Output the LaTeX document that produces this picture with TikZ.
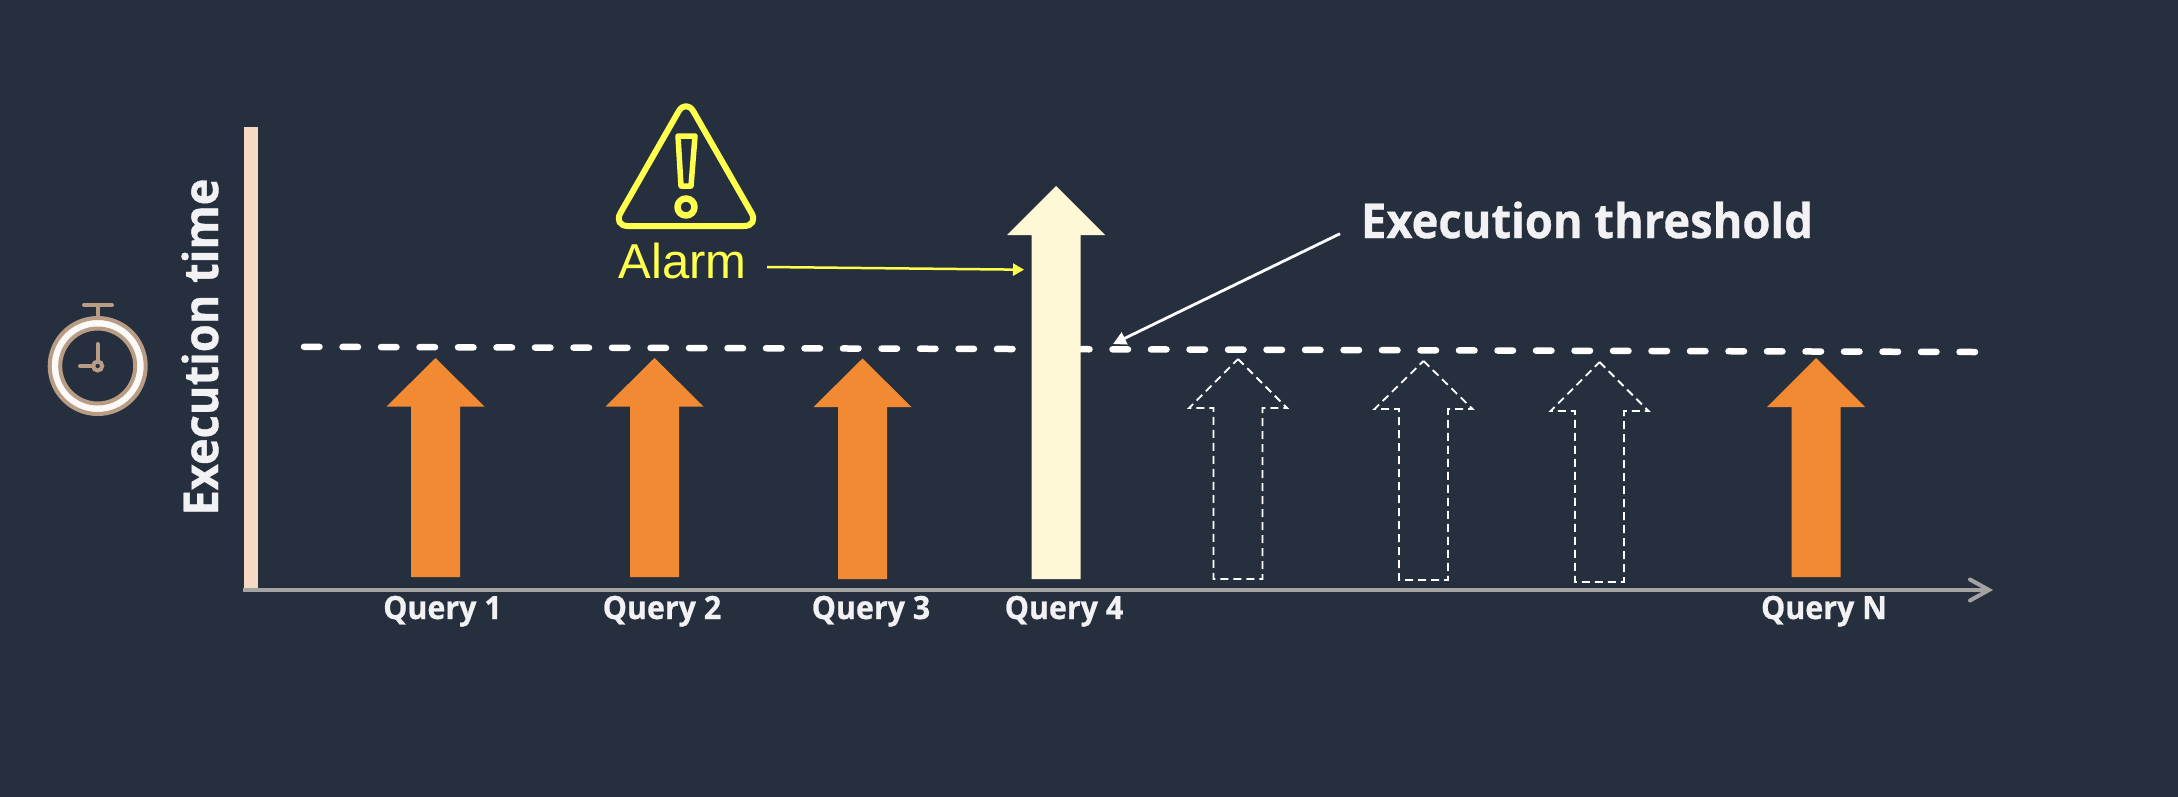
\documentclass[tikz,border=0pt]{standalone}
\usepackage{graphicx}
\usepackage{fontspec}
\setmainfont{Open Sans}
\newfontfamily\alarmfont{Liberation Sans}
\newfontfamily\heavyfont{Open Sans}[BoldFeatures={FakeBold=0.8}]
\usetikzlibrary{arrows.meta}
\definecolor{bgc}{HTML}{262F3E}
\definecolor{orangec}{HTML}{F28A33}
\definecolor{creamc}{HTML}{FFF8D6}
\definecolor{yellowc}{HTML}{FFFF4D}
\definecolor{brownc}{HTML}{B89D84}
\definecolor{peachc}{HTML}{F5D9C3}
\definecolor{greyc}{HTML}{A3A3A3}
\definecolor{labelc}{HTML}{F2F2F4}
\newcommand{\qarrow}[6]{% style, name, cx, tip, base, bottom
  \path[#1] (#3,#4) -- (#3+49,#5) -- (#3+24.5,#5) -- (#3+24.5,#6) -- (#3-24.5,#6) -- (#3-24.5,#5) -- (#3-49,#5) -- cycle;
  \coordinate (#2) at (#3,#4);
}
\newcommand{\qtext}[1]{\scalebox{.95}[1]{#1}}
\tikzset{
  x=1pt,y=-1pt,
  solidarrow/.style={fill=orangec},
  tallarrow/.style={fill=creamc},
  ghostarrow/.style={draw=white,line width=1.8pt,dash pattern=on 8pt off 5pt},
  querylabel/.style={anchor=base,inner sep=0pt,text=labelc,font=\fontsize{32}{32}\selectfont\heavyfont\bfseries},
  biglabel/.style={anchor=base,inner sep=0pt,text=labelc,font=\fontsize{48}{48}\selectfont\heavyfont\bfseries},
  watch/.style={draw=brownc,line width=4pt,line cap=round},
  alarmline/.style={draw=yellowc,line width=6pt,line join=round},
}
\begin{document}
\begin{tikzpicture}
\useasboundingbox (0,0) rectangle (2178,796);
\fill[bgc] (-5,-5) rectangle (2183,801);
% threshold
\coordinate (thA) at (304,346.8);
\coordinate (thB) at (1975,352);
\draw[white,line width=6.5pt,line cap=round,dash pattern=on 15.5pt off 23pt] (thA) -- (thB);
% axes
\fill[peachc] (244,127) rectangle (258,588);
\coordinate (xA) at (243,590);
\coordinate (xB) at (1989,590);
\draw[greyc,line width=4pt] (xA) -- (xB);
\draw[greyc,line width=4pt,line cap=round,line join=miter] (1970,579.5) -- (1989,590) -- (1970,600.5);
% arrows
\qarrow{solidarrow}{q1}{435.5}{358}{406.5}{577}
\qarrow{solidarrow}{q2}{654.5}{358}{406.5}{577}
\qarrow{solidarrow}{q3}{862.5}{358.5}{407}{579}
\qarrow{tallarrow}{q4}{1056}{186}{235}{579}
\qarrow{ghostarrow}{g1}{1238}{359}{408}{579}
\qarrow{ghostarrow}{g2}{1423.5}{361}{409}{580}
\qarrow{ghostarrow}{g3}{1599.5}{362}{411}{582}
\qarrow{solidarrow}{qn}{1816}{358}{407}{577}
% labels
\node[querylabel] (l1) at (442.5,619) {\qtext{Query 1}};
\node[querylabel] (l2) at (662,619) {\qtext{Query 2}};
\node[querylabel] (l3) at (871,619) {\qtext{Query 3}};
\node[querylabel] (l4) at (1064,619) {\qtext{Query 4}};
\node[querylabel] (ln) at (1824,619) {\qtext{Query N}};
\node[biglabel] (thr) at (1587,238) {\scalebox{.943}[1]{Execution threshold}};
\node[biglabel,rotate=90] (yl) at (218,347) {\scalebox{.94}[1]{Execution time}};
% alarm
\node[anchor=base,inner sep=0pt,text=yellowc,font=\fontsize{49}{49}\selectfont\alarmfont] (al) at (682.5,278) {Alarm};
\draw[alarmline,rounded corners=15pt] (686,98.5) -- (759,226) -- (613,226) -- cycle;
\draw[alarmline,line width=5.5pt] (678,136) -- (695,136) -- (691,186) -- (681,186) -- cycle;
\draw[alarmline,line width=6.5pt] (686,207) circle[radius=8.5];
% connectors
\coordinate (alS) at (767,267);
\coordinate (alE) at (1024,269.7);
\draw[yellowc,line width=2.5pt,-{Triangle[length=11pt,width=12pt]}] (alS) -- (alE);
\coordinate (thS) at (1340,233.7);
\coordinate (thE) at (1113,344);
\draw[white,line width=2.8pt,-{Triangle[length=13pt,width=13pt]}] (thS) -- (thE);
% stopwatch
\draw[watch,fill=white!95!brownc] (97.7,366) circle[radius=48];
\draw[watch,fill=bgc] (97.7,366) circle[radius=37.5];
\draw[watch] (84,305) -- (112,305);
\draw[watch,line cap=butt] (97.7,305) -- (97.7,317);
\draw[watch] (97.7,344) -- (97.7,360);
\draw[watch] (80,366) -- (91,366);
\draw[watch] (97.7,366) circle[radius=4.5];
\end{tikzpicture}
\end{document}
